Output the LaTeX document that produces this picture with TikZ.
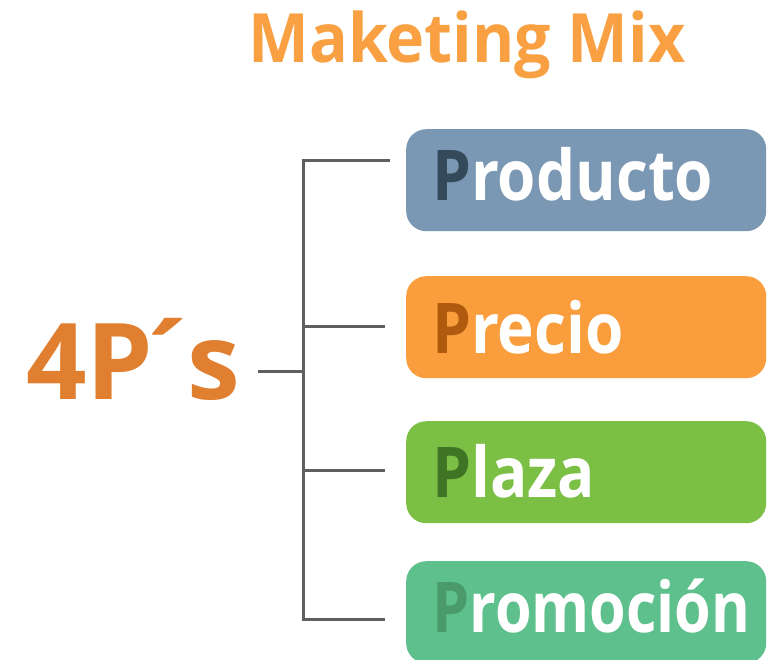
\documentclass[tikz,border=0pt]{standalone}
\usepackage{fontspec}
\setmainfont{Open Sans}
\newfontfamily\boxfont[FakeStretch=0.885]{Open Sans}
\newfontfamily\narrowboxfont[FakeStretch=0.845]{Open Sans}
\newfontfamily\titlefont[FakeStretch=0.948]{Open Sans}
\begin{document}
\begin{tikzpicture}[x=1pt,y=-1pt,
  pbox/.style={rounded corners=20pt, minimum width=360pt, minimum height=102pt,
    inner sep=0pt, anchor=north west},
  plabel/.style={anchor=base west, inner sep=0pt, text=white,
    font=\boxfont\fontsize{70}{70}\selectfont\bfseries},
  branch/.style={draw=linegray, line width=3pt}]
\definecolor{linegray}{HTML}{5F5F5F}
\definecolor{titleorange}{HTML}{F9A042}
\definecolor{fourorange}{HTML}{E07F30}
\definecolor{bluebox}{HTML}{7A98B3}\definecolor{blueP}{HTML}{34495A}
\definecolor{orangebox}{HTML}{F99D3D}\definecolor{orangeP}{HTML}{B05A0F}
\definecolor{greenbox}{HTML}{7BBF45}\definecolor{greenP}{HTML}{3F7425}
\definecolor{tealbox}{HTML}{5EC08D}\definecolor{tealP}{HTML}{4A9A6A}
\useasboundingbox (0,0) rectangle (768,659);
\clip (0,0) rectangle (768,659);

% title
\node (title) [anchor=base, inner sep=0pt, text=titleorange,
  font=\titlefont\fontsize{68}{68}\selectfont\bfseries] at (467,62) {Maketing Mix};

% root label
\node (root) [anchor=base west, inner sep=0pt, text=fourorange,
  font=\fontsize{106}{106}\selectfont\bfseries] at (26,399)
  {4P\kern-18pt´\kern-12pt s};

% coloured boxes
\node (b1) [pbox, fill=bluebox]   at (406,129) {};
\node (b2) [pbox, fill=orangebox] at (406,276) {};
\node (b3) [pbox, fill=greenbox]  at (406,421) {};
\node (b4) [pbox, fill=tealbox]   at (406,561) {};

\node (t1) [plabel] at (432,200) {\textcolor{blueP}{P}roducto};
\node (t2) [plabel] at (432,353) {\textcolor{orangeP}{P}recio};
\node (t3) [plabel] at (432,497) {\textcolor{greenP}{P}laza};
\node (t4) [plabel, font=\narrowboxfont\fontsize{70}{70}\selectfont\bfseries]
  at (432,632) {\textcolor{tealP}{P}romoción};

% bracket
\coordinate (stem) at (258,371);
\coordinate (hub) at (303,371);
\coordinate (top) at (303,160);
\coordinate (bot) at (303,619);
\coordinate (e1) at (390,160);
\coordinate (e2) at (385,326);
\coordinate (e3) at (385,470);
\coordinate (e4) at (385,619);
\draw[branch] (stem) -- (hub);
\draw[branch] (e1) -- (top) -- (bot) -- (e4);
\draw[branch] (303,326) -- (e2);
\draw[branch] (303,470) -- (e3);
\end{tikzpicture}
\end{document}
